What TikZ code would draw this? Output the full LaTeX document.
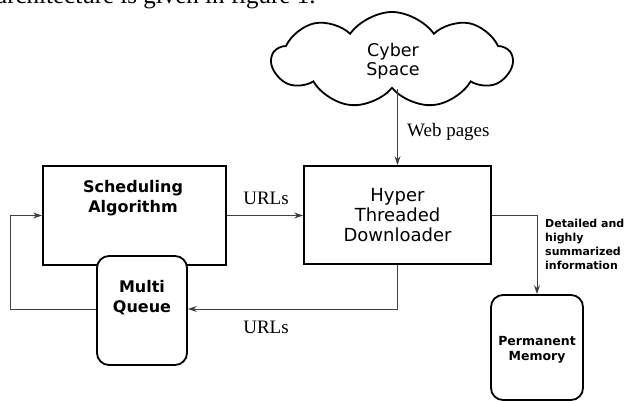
\documentclass[tikz,border=0pt]{standalone}
\usepackage{fontspec}
\setmainfont{Liberation Serif}
\newfontfamily\boxfont{DejaVu Sans}
\usetikzlibrary{shapes.symbols,arrows.meta}
\tikzset{
  box/.style={draw=black,line width=1.8pt,fill=white,inner sep=0pt},
  rbox/.style={box,rounded corners=12pt},
  conn/.style={draw=black!75,line width=1pt},
  arr/.style={conn,-{Stealth[length=9pt,width=6pt]}},
  serif/.style={font=\fontsize{19}{22}\selectfont},
}
\begin{document}
\begin{tikzpicture}[x=1pt,y=-1pt]
\useasboundingbox (0,0) rectangle (631,401);
\begin{scope}
\clip (0,0) rectangle (631,401);
\node[anchor=base west,inner sep=0pt,font=\fontsize{25}{28}\selectfont] (top) at (-4,4) {architecture is given in figure 1.};
\node[rbox,minimum width=92pt,minimum height=105pt] (mem) at (537,347.5) {};
\end{scope}
\node[align=center,font=\boxfont\bfseries\fontsize{12.5}{15.5}\selectfont] (memtxt) at (537,350) {Permanent\\Memory};
% cloud
\node[cloud,draw=black,line width=1.8pt,cloud puffs=9,cloud puff arc=110,aspect=2.6,minimum width=240pt,minimum height=96pt,inner sep=0pt] (cloud) at (392,60) {};
\node[align=center,font=\boxfont\fontsize{17.5}{19}\selectfont] (cloudtxt) at (393,61) {Cyber\\Space};
% boxes
\node[box,minimum width=183pt,minimum height=99pt] (sched) at (134.5,215.5) {};
\node[align=center,font=\boxfont\bfseries\fontsize{16}{20}\selectfont] (schedtxt) at (133,198) {Scheduling\\Algorithm};
\node[box,minimum width=187pt,minimum height=98pt,align=center,font=\boxfont\fontsize{18}{20}\selectfont] (dl) at (397.5,215) {Hyper\\Threaded\\Downloader};
\node[rbox,minimum width=90pt,minimum height=109pt] (mq) at (142,310.5) {};
\node[align=center,font=\boxfont\bfseries\fontsize{16}{20}\selectfont] (mqtxt) at (142,298) {Multi\\Queue};
% connectors
\coordinate (lp) at (10,309);
\draw[arr] (dl.north |- cloud.south) -- (dl.north);
\draw[arr] (sched.east) -- (sched.east -| dl.west);
\draw[arr] (mq.west |- lp) -- (lp) |- (sched.west);
\draw[arr] (dl.south) |- (mq.east |- lp);
\draw[arr] (dl.east) -| (mem.north);
% labels
\node[serif,anchor=west,inner sep=0pt] (wp) at (407,132) {Web pages};
\node[serif] (u1) at (266,198) {URLs};
\node[serif] (u2) at (266,327) {URLs};
\node[anchor=north west,align=left,inner sep=0pt,font=\boxfont\bfseries\fontsize{11}{14}\selectfont] (det) at (545,219) {Detailed and\\highly\\summarized\\information};
\end{tikzpicture}
\end{document}
